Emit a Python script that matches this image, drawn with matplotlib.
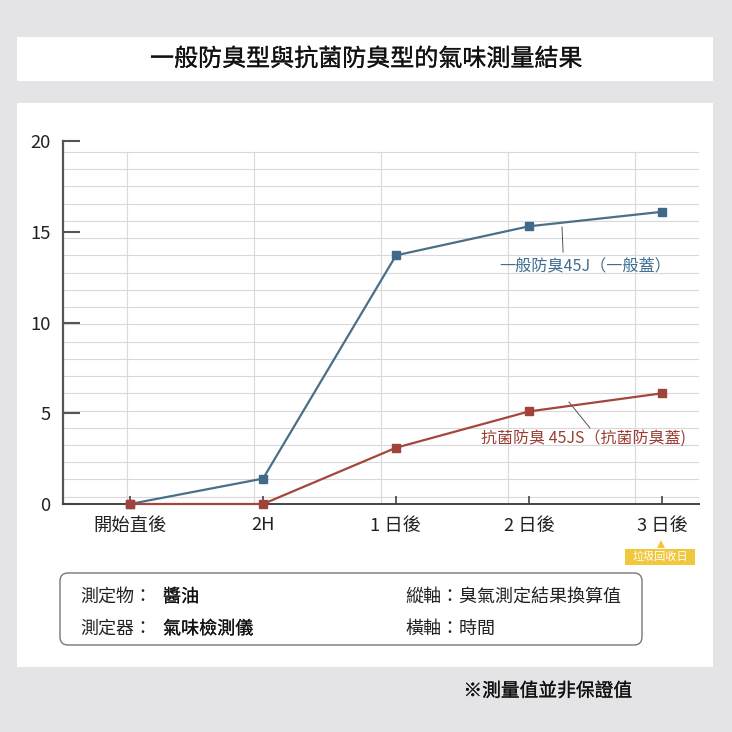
import matplotlib
matplotlib.use("Agg")
import matplotlib.pyplot as plt
import matplotlib.patheffects as pe
from matplotlib.patches import Rectangle, FancyBboxPatch, Polygon

plt.rcParams['font.family'] = ['Noto Sans CJK TC', 'DejaVu Sans']

# ---- data ----
categories = ["開始直後", "2H", "1 日後", "2 日後", "3 日後"]
series_general = [0, 1.4, 13.7, 15.3, 16.1]
series_antibac = [0, 0, 3.1, 5.1, 6.1]
label_general = "一般防臭45J（一般蓋）"
label_antibac = "抗菌防臭 45JS（抗菌防臭蓋)"
yticks = [0, 5, 10, 15, 20]
title = "一般防臭型與抗菌防臭型的氣味測量結果"
info_left = [("測定物：", "醬油"), ("測定器：", "氣味檢測儀")]
info_right = ["縱軸：臭氣測定結果換算值", "橫軸：時間"]
footnote = "※測量值並非保證值"
tag_text = "垃圾回收日"

W = H = 732
fig = plt.figure(figsize=(W / 100, H / 100), dpi=100)
fig.patch.set_facecolor("#e4e4e6")

def fx(p):
    return p / W

def fy(p):
    return 1 - p / H

def medium(color, lw):
    return [pe.withStroke(linewidth=lw, foreground=color)]

# white panels
fig.patches.append(Rectangle((fx(17), fy(81)), fx(713) - fx(17), fy(37) - fy(81),
                             transform=fig.transFigure, facecolor="white", edgecolor="none", zorder=-5))
fig.patches.append(Rectangle((fx(17), fy(667)), fx(713) - fx(17), fy(103) - fy(667),
                             transform=fig.transFigure, facecolor="white", edgecolor="none", zorder=-5))

fig.text(fx(366), fy(59), title, ha="center", va="center", fontsize=17.3,
         color="#111111", path_effects=medium("#111111", 0.18))

# axes
ax = fig.add_axes([fx(63), fy(504), fx(699) - fx(63), fy(141) - fy(504)])
ax.set_zorder(2)
ax.set_facecolor("none")
ax.set_xlim(-0.504, 4.278)
ax.set_ylim(0, 20)

# background grid (decorative, slightly offset as in the reference)
gstep_y = 0.95
for k in range(21):
    ax.axhline(0.40 + gstep_y * k, color="#d9d9d9", lw=0.8, zorder=0)
gstep_x = 0.955
for k in range(5):
    ax.plot([-0.023 + gstep_x * k] * 2, [0, 19.4], color="#d9d9d9", lw=0.8, zorder=0)
ax.plot([4.275, 4.275], [0, 19.4], color="#d9d9d9", lw=0.8, zorder=0)

x = list(range(len(categories)))
c_blue = "#4a6f88"
c_red = "#a4463c"
ax.plot(x, series_general, color=c_blue, lw=1.6, marker="s", ms=5.5,
        markerfacecolor="#3f6a88", markeredgecolor="#3f6a88", zorder=3, clip_on=False)
ax.plot(x, series_antibac, color=c_red, lw=1.6, marker="s", ms=5.5,
        markerfacecolor="#a0433a", markeredgecolor="#a0433a", zorder=4, clip_on=False)

# leader lines and labels
ax.plot([3.248, 3.256], [15.26, 13.88], color="#555555", lw=0.7, zorder=2)
ax.text(3.42, 13.1, label_general, ha="center", va="center", fontsize=11.6,
        color="#3f6e90")
ax.plot([3.30, 3.458], [5.62, 4.19], color="#555555", lw=0.7, zorder=2)
ax.text(3.41, 3.64, label_antibac, ha="center", va="center", fontsize=11.5,
        color="#9b3f35")

# spines & ticks
for s in ["top", "right"]:
    ax.spines[s].set_visible(False)
ax.spines["left"].set_color("#555555")
ax.spines["left"].set_linewidth(1.6)
ax.spines["bottom"].set_color("#444444")
ax.spines["bottom"].set_linewidth(1.4)
ax.set_yticks(yticks)
ax.set_yticklabels([str(v) for v in yticks])
ax.set_xticks(x)
ax.set_xticklabels(categories)
ax.tick_params(axis="y", direction="in", length=12, width=1.5, color="#555555",
               labelsize=13.3, pad=9, labelcolor="#222222")
ax.tick_params(axis="x", direction="in", length=6, width=1.2, color="#444444",
               labelsize=13.2, pad=9, labelcolor="#222222")

# yellow tag under 3日後
tag_color = "#f1c73e"
fig.patches.append(Rectangle((fx(625), fy(565)), fx(695) - fx(625), fy(549) - fy(565),
                             transform=fig.transFigure, facecolor=tag_color, edgecolor="none"))
fig.patches.append(Polygon([(fx(657), fy(548)), (fx(665), fy(548)), (fx(661), fy(540))],
                           closed=True, transform=fig.transFigure, facecolor=tag_color, edgecolor="none"))
fig.text(fx(660), fy(557), tag_text, ha="center", va="center", fontsize=8, color="white")

# info box
fig.patches.append(FancyBboxPatch((fx(60), fy(645)), fx(642) - fx(60), fy(573) - fy(645),
                                  boxstyle="round,pad=0,rounding_size=0.011",
                                  transform=fig.transFigure, facecolor="white",
                                  edgecolor="#777777", linewidth=1.0))
for i, (k, v) in enumerate(info_left):
    yy = fy(597 + 32 * i)
    fig.text(fx(80), yy, k, ha="left", va="center", fontsize=13, color="#222222")
    fig.text(fx(163), yy, v, ha="left", va="center", fontsize=13, color="#111111",
             path_effects=medium("#111111", 0.12))
for i, t in enumerate(info_right):
    fig.text(fx(405), fy(597 + 32 * i), t, ha="left", va="center", fontsize=13, color="#222222")

fig.text(fx(632), fy(691), footnote, ha="right", va="center", fontsize=13.5,
         color="#111111", path_effects=medium("#111111", 0.18))

fig.savefig("out.png", dpi=100, facecolor=fig.get_facecolor())
